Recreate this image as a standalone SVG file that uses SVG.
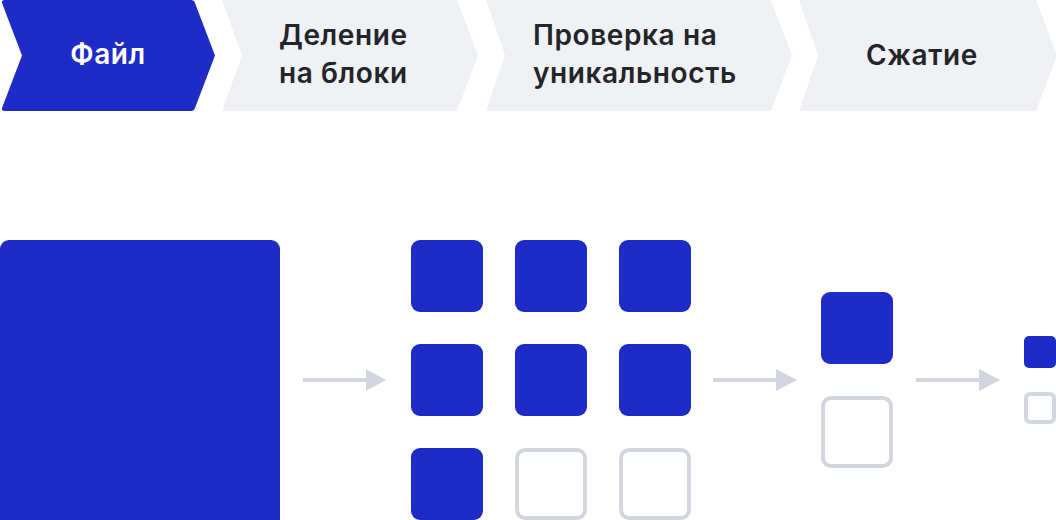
<svg xmlns="http://www.w3.org/2000/svg" width="1056" height="520" viewBox="0 0 1056 520">
<style>
.blue{fill:#1f2bc6}
.grey{fill:#f0f1f4}
.empty{fill:#ffffff;stroke:#d3d6de;stroke-width:4}
.lbl{font-family:"Inter","Noto Sans","DejaVu Sans",sans-serif;font-size:28px;font-weight:600;letter-spacing:0.6px;fill:#24252a}
.lblw{fill:#ffffff}
.conn{stroke:#d3d6de;stroke-width:4;fill:none}
.head{fill:#d3d6de}
</style>
<rect width="1056" height="520" fill="#ffffff"/>
<g id="step-file">
<path class="blue" d="M5,0 H191 Q194,0 195,3 L215,55.5 L195,108 Q194,111 191,111 H5 Q1,111 2,108 L22,55.5 L2,3 Q1,0 5,0 Z"/>
<text class="lbl lblw" x="108" y="64" text-anchor="middle">Файл</text>
</g>
<g id="step-split">
<path class="grey" d="M222,0 H457 L478,55.5 L457,111 H222 L242,55.5 Z"/>
<text class="lbl" x="279" y="45">Деление</text>
<text class="lbl" x="279" y="83">на блоки</text>
</g>
<g id="step-unique">
<path class="grey" d="M486,0 H771 L792,55.5 L771,111 H486 L505,55.5 Z"/>
<text class="lbl" x="533" y="45">Проверка на</text>
<text class="lbl" x="533" y="83">уникальность</text>
</g>
<g id="step-compress">
<path class="grey" d="M799,0 H1036 L1057,55.5 L1036,111 H799 L818,55.5 Z"/>
<text class="lbl" x="922" y="65" text-anchor="middle">Сжатие</text>
</g>
<g id="file-block">
<rect class="blue" x="0" y="240" width="280" height="290" rx="9"/>
</g>
<g id="blocks">
<rect class="blue" x="411" y="240" width="72" height="72" rx="9"/>
<rect class="blue" x="515" y="240" width="72" height="72" rx="9"/>
<rect class="blue" x="619" y="240" width="72" height="72" rx="9"/>
<rect class="blue" x="411" y="344" width="72" height="72" rx="9"/>
<rect class="blue" x="515" y="344" width="72" height="72" rx="9"/>
<rect class="blue" x="619" y="344" width="72" height="72" rx="9"/>
<rect class="blue" x="411" y="448" width="72" height="72" rx="9"/>
<rect class="empty" x="517" y="450" width="68" height="68" rx="8"/>
<rect class="empty" x="621" y="450" width="68" height="68" rx="8"/>
</g>
<g id="unique-blocks">
<rect class="blue" x="821" y="292" width="72" height="72" rx="9"/>
<rect class="empty" x="823" y="398" width="68" height="68" rx="8"/>
</g>
<g id="compressed-blocks">
<rect class="blue" x="1024" y="336" width="32" height="32" rx="5"/>
<rect class="empty" x="1026" y="394" width="28" height="28" rx="4"/>
</g>
<g id="connectors">
<line class="conn" x1="303" y1="380" x2="368" y2="380"/>
<path class="head" d="M366,369 L386,380 L366,391 Z"/>
<line class="conn" x1="713" y1="380" x2="778" y2="380"/>
<path class="head" d="M776,369 L797,380 L776,391 Z"/>
<line class="conn" x1="916" y1="380" x2="981" y2="380"/>
<path class="head" d="M979,369 L1000,380 L979,391 Z"/>
</g>
</svg>
